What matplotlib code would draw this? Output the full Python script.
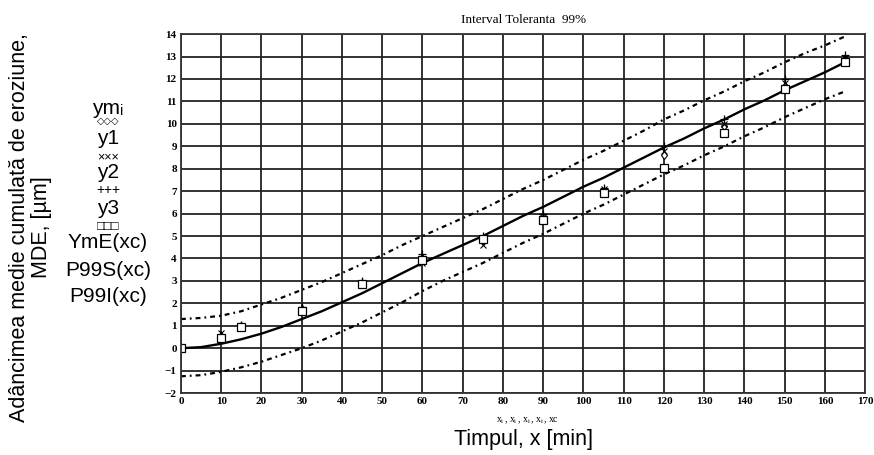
import matplotlib
matplotlib.use("Agg")
import matplotlib.pyplot as plt

# puncte experimentale
x_exp = [0, 10, 15, 30, 45, 60, 75, 90, 105, 120, 135, 150, 165]
ymi = [0.0, 0.55, 1.0, 1.75, 2.9, 4.0, 4.8, 5.85, 7.0, 8.6, 9.9, 11.7, 12.9]
y1 = [0.0, 0.7, 1.0, 1.7, 2.85, 3.8, 4.6, 5.8, 7.1, 8.8, 10.0, 11.8, 12.95]
y2 = [0.05, 0.6, 1.05, 1.85, 3.0, 4.2, 5.0, 6.0, 7.15, 9.0, 10.2, 12.0, 13.05]
y3 = [0.0, 0.45, 0.95, 1.65, 2.85, 3.95, 4.85, 5.7, 6.9, 8.05, 9.6, 11.55, 12.75]

# curba medie si limitele de toleranta
xc = [0, 5, 10, 15, 20, 25, 30, 35, 40, 45, 50, 55, 60, 65, 70, 75, 80, 85,
      90, 95, 100, 105, 110, 115, 120, 125, 130, 135, 140, 145, 150, 155, 160, 165]
ymE = [0.0, 0.05, 0.2, 0.4, 0.65, 0.95, 1.3, 1.65, 2.05, 2.45, 2.9, 3.35, 3.8,
       4.2, 4.6, 5.0, 5.45, 5.9, 6.3, 6.75, 7.2, 7.6, 8.05, 8.5, 8.95, 9.35,
       9.8, 10.2, 10.65, 11.05, 11.5, 11.9, 12.3, 12.75]
p99s = [1.3, 1.35, 1.45, 1.65, 1.95, 2.25, 2.6, 2.95, 3.35, 3.75, 4.15, 4.6,
        5.0, 5.4, 5.8, 6.2, 6.65, 7.1, 7.5, 7.95, 8.4, 8.8, 9.25, 9.7, 10.2,
        10.6, 11.05, 11.45, 11.9, 12.3, 12.75, 13.15, 13.5, 13.9]
p99i = [-1.25, -1.2, -1.05, -0.85, -0.6, -0.3, 0.0, 0.35, 0.75, 1.15, 1.6,
        2.05, 2.55, 3.0, 3.4, 3.8, 4.25, 4.7, 5.1, 5.55, 6.0, 6.4, 6.85, 7.3,
        7.75, 8.15, 8.6, 9.0, 9.45, 9.85, 10.3, 10.7, 11.1, 11.45]

xticks = list(range(0, 171, 10))
yticks = list(range(-2, 15))

fig = plt.figure(figsize=(8.74, 4.55), dpi=100)
ax = fig.add_axes([0.207, 0.136, 0.783, 0.789])

ax.plot(xc, ymE, color="black", lw=1.7)
ax.plot(xc, p99s, color="black", lw=1.6, linestyle=(0, (2.2, 1.8, 0.8, 1.8)))
ax.plot(xc, p99i, color="black", lw=1.6, linestyle=(0, (2.2, 1.8, 0.8, 1.8)))

ax.plot(x_exp, ymi, linestyle="none", marker="d", mfc="white", mec="black", ms=4.5, mew=0.8)
ax.plot(x_exp, y1, linestyle="none", marker="x", color="black", ms=4.5, mew=0.8)
ax.plot(x_exp, y2, linestyle="none", marker="+", color="black", ms=6, mew=0.9)
ax.plot(x_exp, y3, linestyle="none", marker="s", mfc="white", mec="black", ms=5.5, mew=0.9)

ax.set_xlim(0, 170)
ax.set_ylim(-2, 14)
ax.set_xticks(xticks)
ax.set_yticks(yticks)
ax.grid(True, color="#222222", lw=1.3)
for s in ax.spines.values():
    s.set_color("#333333")
    s.set_linewidth(1.3)
ax.tick_params(length=0, pad=3)
for lab in ax.get_xticklabels() + ax.get_yticklabels():
    lab.set_fontfamily("Liberation Serif")
    lab.set_fontweight("bold")
    lab.set_fontsize(8)

ax.set_title("Interval Toleranta  99%", fontfamily="Liberation Serif", fontsize=9.5, pad=8)

# eticheta axa x
fig.text(0.604, 0.076, r"$\mathregular{x_i\,,x_i\,,x_i\,,x_i\,,xc}$", ha="center", va="center",
         fontsize=7, fontfamily="Liberation Serif")
ax.set_xlabel("Timpul, x [min]", fontfamily="Liberation Sans", fontsize=15.5, labelpad=16)

# eticheta axa y
fig.text(0.035, 0.5, "Adâncimea medie cumulată de eroziune,\nMDE, [µm]", rotation=90,
         ha="center", va="center", multialignment="center",
         fontfamily="Liberation Sans", fontsize=15.5, linespacing=1.1)

# legenda in stil Mathcad
leg = [("ymᵢ", 108, 15), ("◇◇◇", 121, 7), ("y1", 138, 15), ("×××", 157, 9),
       ("y2", 173, 15), ("+++", 190, 10), ("y3", 209, 15), ("□□□", 227, 9),
       ("YmE(xc)", 243, 15), ("P99S(xc)", 270, 15), ("P99I(xc)", 297, 15)]
for txt, ypx, fs in leg:
    fig.text(108 / 874, 1 - ypx / 455, txt, ha="center", va="center",
             fontsize=fs, fontfamily=["Liberation Sans", "DejaVu Sans"])

plt.savefig("out.png", dpi=100)
